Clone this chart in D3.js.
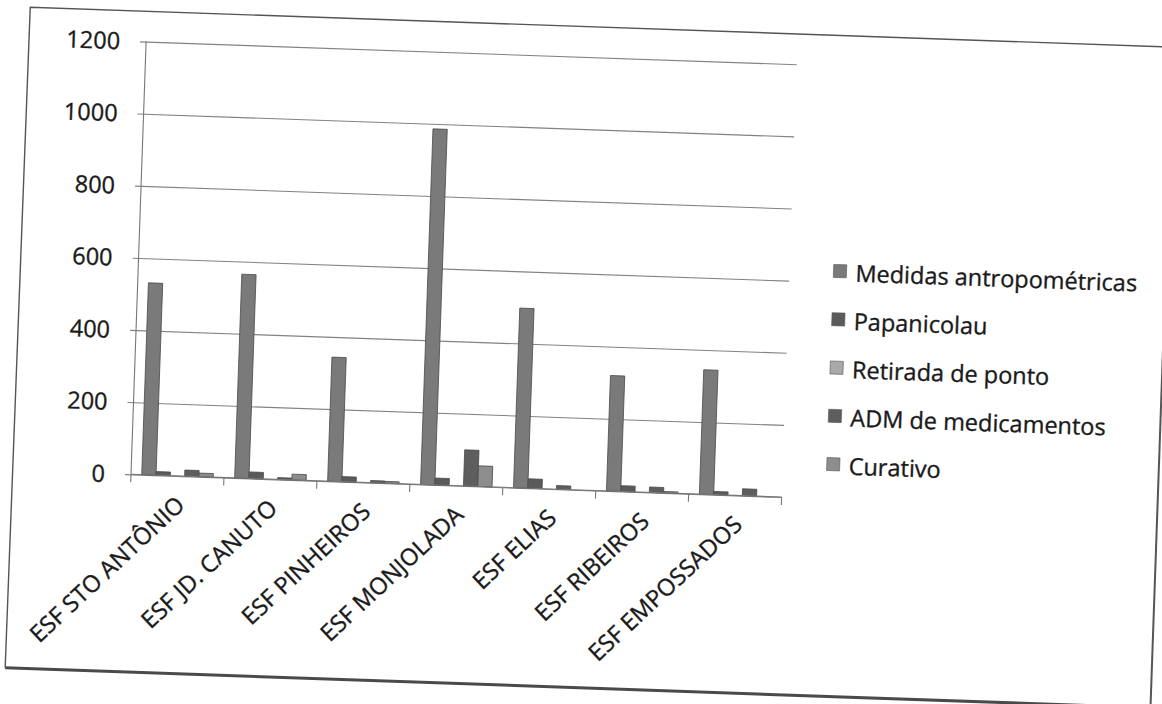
<!DOCTYPE html>
<html>
<head>
<meta charset="utf-8">
<script src="https://cdn.jsdelivr.net/npm/d3@7"></script>
<style>
  html, body { margin: 0; padding: 0; background: #fff; }
  svg { display: block; }
  text { font-family: "Open Sans", "Noto Sans", sans-serif; fill: #1a1a1a; stroke: #1a1a1a; stroke-width: 0.35px; }
</style>
</head>
<body>
<svg id="chart" width="1162" height="704"></svg>
<script>
// Atendimentos por unidade de saúde
const categories = ["ESF STO ANTÔNIO", "ESF JD. CANUTO", "ESF PINHEIROS", "ESF MONJOLADA", "ESF ELIAS", "ESF RIBEIROS", "ESF EMPOSSADOS"];
const seriesNames = ["Medidas antropométricas", "Papanicolau", "Retirada de ponto", "ADM de medicamentos", "Curativo"];
const medidas     = [532, 565, 344, 986, 498, 320, 345];
const papanicolau = [10, 18, 14, 19, 26, 16, 9];
const retirada    = [0, 0, 0, 0, 0, 0, 0];
const adm         = [17, 5, 6, 100, 10, 15, 19];
const curativo    = [10, 16, 5, 57, 0, 4, 0];
const yTicks      = [0, 200, 400, 600, 800, 1000, 1200];

const seriesValues = [medidas, papanicolau, retirada, adm, curativo];
const seriesFill   = ["#7a7a7a", "#5a5a5a", "#a9a9a9", "#5e5e5e", "#8d8d8d"];

const FONT_SIZE = 23.5;
const svg = d3.select("#chart");

// plot frame
const plotLeft = 131, plotRight = 782, plotTop = 41.3, plotBottom = 474.3;

// the whole sheet sits slightly skewed on the page
const sheet = svg.append("g").attr("transform", `rotate(2, ${plotLeft}, ${plotBottom})`);

// sheet outline
sheet.append("path")
  .attr("d", "M1158,11 L14,11 L12,672")
  .attr("fill", "none").attr("stroke", "#555").attr("stroke-width", 1.4);
sheet.append("line")
  .attr("x1", 12).attr("y1", 672).attr("x2", 1158).attr("y2", 672)
  .attr("stroke", "#4a4a4a").attr("stroke-width", 3);
sheet.append("line")
  .attr("x1", 1158).attr("y1", 11).attr("x2", 1158).attr("y2", 672)
  .attr("stroke", "#555").attr("stroke-width", 2);

const x0 = d3.scaleBand().domain(categories).range([plotLeft, plotRight]).paddingInner(0).paddingOuter(0);
const x1 = d3.scaleBand().domain(seriesNames).range([0, x0.bandwidth()]).paddingInner(0).paddingOuter(0.75);
const y = d3.scaleLinear().domain([0, 1200]).range([plotBottom, plotTop]);

// gridlines + y labels
const yAxis = d3.axisLeft(y).tickValues(yTicks).tickSize(-(plotRight - plotLeft)).tickPadding(26).tickFormat(d3.format("d"));
const gy = sheet.append("g").attr("transform", `translate(${plotLeft},0)`).call(yAxis);
gy.select(".domain").remove();
gy.selectAll(".tick line").attr("x1", -6).attr("stroke", "#828282").attr("stroke-width", 1.1);
gy.selectAll(".tick text").attr("font-size", FONT_SIZE).attr("font-family", "Open Sans").attr("fill", "#1a1a1a").attr("dy", "0.34em");

// vertical axis line
sheet.append("line")
  .attr("x1", plotLeft).attr("x2", plotLeft).attr("y1", plotTop).attr("y2", plotBottom)
  .attr("stroke", "#777").attr("stroke-width", 1.1);

// bars
const groups = sheet.append("g").selectAll("g")
  .data(categories)
  .join("g")
  .attr("transform", d => `translate(${x0(d)},0)`);

groups.selectAll("rect")
  .data((d, i) => seriesNames.map((s, k) => ({ s, k, v: seriesValues[k][i] })).filter(d => d.v > 0))
  .join("rect")
  .attr("x", d => x1(d.s))
  .attr("width", x1.bandwidth())
  .attr("y", d => y(d.v))
  .attr("height", d => y(0) - y(d.v))
  .attr("fill", d => seriesFill[d.k])
  .attr("stroke", "#4a4a4a")
  .attr("stroke-width", 0.8);

// category axis with boundary ticks
const boundaries = categories.map(c => x0(c)).concat([plotRight]);
sheet.append("line")
  .attr("x1", plotLeft).attr("x2", plotRight).attr("y1", plotBottom).attr("y2", plotBottom)
  .attr("stroke", "#777").attr("stroke-width", 1.1);
sheet.append("g").selectAll("line")
  .data(boundaries)
  .join("line")
  .attr("x1", d => d).attr("x2", d => d)
  .attr("y1", plotBottom).attr("y2", plotBottom + 8)
  .attr("stroke", "#777").attr("stroke-width", 1.1);

sheet.append("g").selectAll("text")
  .data(categories)
  .join("text")
  .attr("transform", d => `translate(${x0(d) + x0.bandwidth() / 2 + 4},${plotBottom + 25}) rotate(-45)`)
  .attr("text-anchor", "end")
  .attr("dy", "0.34em")
  .attr("font-size", FONT_SIZE)
  .text(d => d);

// legend
const legend = sheet.append("g").attr("transform", "translate(826,240)");
const li = legend.selectAll("g")
  .data(seriesNames)
  .join("g")
  .attr("transform", (d, i) => `translate(0,${i * 48.3})`);
li.append("rect")
  .attr("width", 13).attr("height", 13)
  .attr("fill", (d, i) => seriesFill[i])
  .attr("stroke", "#555").attr("stroke-width", 0.6);
li.append("text")
  .attr("x", 22).attr("y", 16.5)
  .attr("font-size", FONT_SIZE)
  .text(d => d);
</script>
</body>
</html>
